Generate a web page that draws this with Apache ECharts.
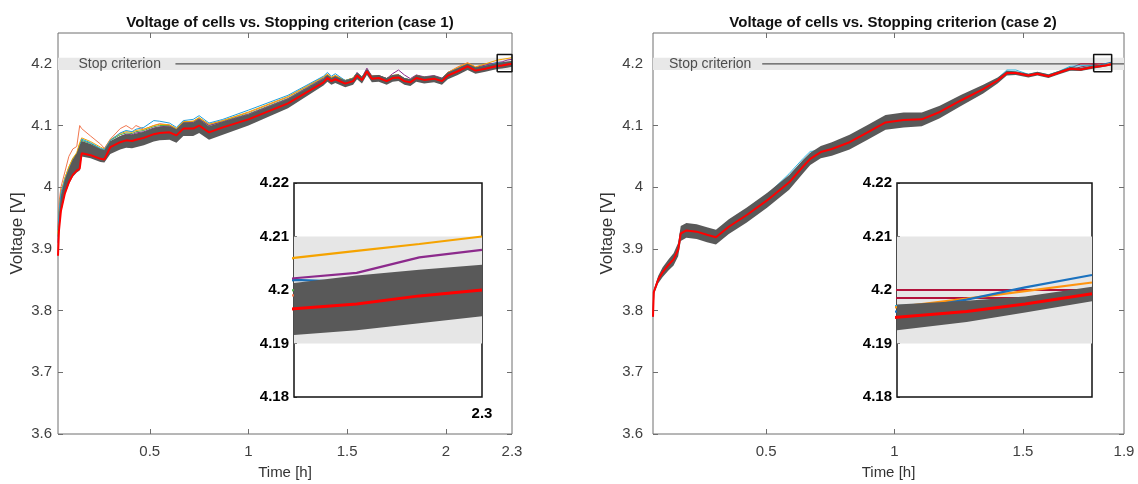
<!DOCTYPE html>
<html><head><meta charset="utf-8">
<script src="https://cdn.jsdelivr.net/npm/echarts@6/dist/echarts.min.js"></script>
<style>html,body{margin:0;padding:0;background:#fff}#c{width:1138px;height:484px}</style>
</head><body><div id="c"></div>
<script>
// ---------------- DATA ----------------
const titles = ['Voltage of cells vs. Stopping criterion (case 1)', 'Voltage of cells vs. Stopping criterion (case 2)'];
const xName = 'Time [h]';
const yName = 'Voltage [V]';
const stopText = 'Stop criterion';
const stopLevel = 4.2;
const stopBand = [4.19, 4.21];

const xRange1 = [0.035, 2.335];
const xRange2 = [0.06, 1.893];
const yRange = [3.6, 4.25];
const yTicks = [3.6, 3.7, 3.8, 3.9, 4, 4.1, 4.2];
const xTickVals1 = [0.5, 1, 1.5, 2, 2.335];
const xTickText1 = ['0.5', '1', '1.5', '2', '2.3'];
const xTickVals2 = [0.5, 1, 1.5, 1.893];
const xTickText2 = ['0.5', '1', '1.5', '1.9'];

const insetX1 = [2.26, 2.335];
const insetX2 = [1.775, 1.845];
const insetY = [4.18, 4.22];
const insetYTicks = [4.18, 4.19, 4.2, 4.21, 4.22];
const insetXTickVals1 = [2.335];
const insetXTickText1 = ['2.3'];
const zoomBoxY = [4.187, 4.215];

const stopTextX1 = 0.136, stopLineStart1 = 0.63;
const stopTextX2 = 0.12, stopLineStart2 = 0.485;

// case 1
const t1 = [0.035,0.04,0.05,0.07,0.09,0.11,0.13,0.145,0.155,0.2,0.25,0.27,0.3,0.35,0.38,0.41,0.43,0.47,0.52,0.55,0.6,0.635,0.67,0.72,0.75,0.8,0.87,1.0,1.2,1.38,1.4,1.42,1.44,1.49,1.53,1.55,1.575,1.6,1.625,1.66,1.7,1.73,1.76,1.79,1.82,1.85,1.89,1.94,1.98,2.01,2.06,2.11,2.15,2.2,2.26,2.285,2.31,2.335];
const red1 = [3.889,3.93,3.962,3.99,4.008,4.02,4.027,4.03,4.055,4.052,4.046,4.045,4.065,4.073,4.076,4.075,4.077,4.08,4.086,4.088,4.089,4.084,4.095,4.095,4.1,4.089,4.097,4.11,4.136,4.17,4.177,4.172,4.175,4.168,4.172,4.181,4.174,4.188,4.176,4.177,4.172,4.177,4.178,4.172,4.17,4.177,4.174,4.176,4.172,4.181,4.188,4.196,4.189,4.192,4.1965,4.1974,4.1989,4.2];
const lo1 = [3.887,3.925,3.958,3.988,4.005,4.017,4.024,4.027,4.05,4.047,4.041,4.04,4.054,4.061,4.064,4.063,4.065,4.068,4.074,4.076,4.077,4.072,4.083,4.083,4.088,4.077,4.085,4.1,4.128,4.165,4.171,4.166,4.169,4.162,4.166,4.175,4.168,4.182,4.17,4.171,4.166,4.171,4.172,4.166,4.164,4.171,4.168,4.17,4.166,4.175,4.182,4.19,4.184,4.187,4.1916,4.1925,4.1938,4.1951];
const hi1 = [3.9,3.95,3.985,4.012,4.03,4.045,4.055,4.068,4.075,4.07,4.062,4.06,4.075,4.083,4.086,4.085,4.087,4.09,4.096,4.098,4.099,4.094,4.105,4.105,4.11,4.099,4.106,4.118,4.143,4.176,4.182,4.177,4.18,4.173,4.177,4.186,4.179,4.192,4.181,4.182,4.177,4.182,4.183,4.177,4.175,4.182,4.179,4.181,4.177,4.186,4.193,4.2,4.194,4.197,4.2013,4.2027,4.2038,4.2047];
const blue1 = [3.93,3.96,3.99,4.012,4.028,4.042,4.05,4.06,4.078,4.072,4.063,4.061,4.076,4.088,4.092,4.09,4.094,4.097,4.108,4.107,4.104,4.097,4.108,4.11,4.116,4.104,4.11,4.125,4.149,4.18,4.186,4.18,4.184,4.173,4.176,4.185,4.178,4.19,4.179,4.18,4.176,4.18,4.181,4.176,4.174,4.18,4.178,4.18,4.176,4.185,4.192,4.199,4.193,4.196,4.2019,4.2015,4.2024,4.203];
const coral1 = [3.935,3.975,4.0,4.025,4.05,4.062,4.066,4.1,4.095,4.083,4.07,4.063,4.078,4.095,4.1,4.094,4.1,4.094,4.1,4.103,4.101,4.095,4.106,4.107,4.112,4.102,4.108,4.121,4.146,4.178,4.183,4.178,4.181,4.173,4.177,4.185,4.178,4.19,4.18,4.181,4.176,4.181,4.182,4.176,4.174,4.181,4.178,4.18,4.176,4.186,4.195,4.202,4.195,4.198,4.199,4.2,4.201,4.202];
const green1 = [3.92,3.955,3.99,4.015,4.032,4.046,4.054,4.07,4.076,4.071,4.062,4.06,4.076,4.085,4.088,4.087,4.09,4.092,4.098,4.1,4.1,4.094,4.105,4.106,4.111,4.1,4.107,4.119,4.144,4.177,4.182,4.177,4.18,4.173,4.177,4.185,4.178,4.19,4.179,4.18,4.176,4.181,4.182,4.176,4.174,4.181,4.178,4.18,4.176,4.185,4.192,4.199,4.193,4.196,4.2,4.201,4.202,4.2025];
const purple1 = [3.91,3.95,3.985,4.01,4.027,4.042,4.05,4.065,4.072,4.068,4.06,4.058,4.073,4.082,4.086,4.085,4.088,4.09,4.096,4.098,4.099,4.093,4.104,4.105,4.11,4.1,4.106,4.118,4.143,4.176,4.181,4.176,4.179,4.172,4.176,4.186,4.178,4.193,4.18,4.181,4.176,4.184,4.19,4.182,4.176,4.182,4.179,4.181,4.177,4.186,4.193,4.2,4.194,4.198,4.2022,4.2032,4.2061,4.2075];
const orange1 = [3.925,3.96,3.992,4.015,4.033,4.047,4.056,4.072,4.08,4.074,4.065,4.062,4.077,4.087,4.09,4.089,4.092,4.094,4.1,4.102,4.101,4.095,4.106,4.107,4.113,4.102,4.108,4.122,4.147,4.179,4.183,4.178,4.181,4.173,4.177,4.185,4.178,4.19,4.18,4.18,4.176,4.181,4.182,4.176,4.174,4.181,4.178,4.18,4.176,4.186,4.194,4.201,4.195,4.2,4.206,4.2073,4.2086,4.21];

// case 2
const t2 = [0.06,0.063,0.08,0.097,0.12,0.14,0.158,0.168,0.19,0.23,0.27,0.305,0.355,0.425,0.505,0.59,0.645,0.672,0.713,0.756,0.825,0.895,0.965,1.035,1.106,1.176,1.26,1.345,1.401,1.437,1.472,1.521,1.556,1.599,1.641,1.683,1.725,1.775,1.8,1.821,1.845];
const red2 = [3.79,3.83,3.85,3.862,3.874,3.883,3.899,3.925,3.93,3.928,3.923,3.919,3.936,3.955,3.979,4.008,4.034,4.046,4.057,4.062,4.073,4.089,4.105,4.109,4.11,4.122,4.141,4.159,4.173,4.185,4.185,4.181,4.184,4.18,4.186,4.192,4.191,4.1949,4.196,4.1974,4.1993];
const lo2 = [3.787,3.826,3.844,3.854,3.865,3.873,3.888,3.913,3.918,3.916,3.911,3.907,3.924,3.943,3.967,3.996,4.023,4.036,4.047,4.051,4.061,4.077,4.093,4.097,4.099,4.112,4.132,4.152,4.168,4.181,4.182,4.178,4.181,4.177,4.183,4.189,4.1885,4.1925,4.194,4.1958,4.1979];
const hi2 = [3.793,3.834,3.856,3.87,3.883,3.893,3.91,3.937,3.942,3.94,3.935,3.931,3.948,3.967,3.991,4.02,4.045,4.056,4.067,4.073,4.085,4.101,4.117,4.121,4.121,4.132,4.15,4.166,4.178,4.189,4.188,4.184,4.187,4.183,4.189,4.195,4.1935,4.1973,4.198,4.1988,4.2006];
const cyan2 = [3.79,3.83,3.852,3.864,3.877,3.886,3.902,3.93,3.935,3.932,3.927,3.923,3.941,3.961,3.988,4.022,4.047,4.058,4.06,4.066,4.077,4.093,4.109,4.113,4.114,4.126,4.145,4.162,4.176,4.19,4.19,4.183,4.186,4.182,4.188,4.196,4.197,4.197,4.1975,4.198,4.1995];
const blue2 = [3.79,3.83,3.851,3.863,3.876,3.885,3.9,3.927,3.932,3.93,3.925,3.921,3.938,3.957,3.982,4.012,4.038,4.05,4.06,4.065,4.076,4.092,4.108,4.112,4.113,4.125,4.143,4.161,4.175,4.187,4.186,4.182,4.185,4.181,4.187,4.193,4.192,4.196,4.1982,4.2005,4.2028];
const orange2 = [3.79,3.83,3.85,3.862,3.875,3.884,3.9,3.926,3.931,3.929,3.924,3.92,3.937,3.956,3.981,4.01,4.036,4.048,4.058,4.064,4.075,4.091,4.107,4.111,4.112,4.124,4.142,4.16,4.174,4.186,4.186,4.182,4.185,4.181,4.187,4.193,4.192,4.1968,4.1984,4.1998,4.2014];
const tCrimson2 = [1.683, 1.725, 1.775, 1.8, 1.821, 1.845];
const crimsonA2 = [4.193, 4.2, 4.2, 4.2, 4.2, 4.2];
const crimsonB2 = [4.19, 4.195, 4.1985, 4.1985, 4.1985, 4.1985];

// ---------------- STYLE ----------------
const FONT = '"Liberation Sans", Arial, sans-serif';
const COL = {
  red: '#ff0000', band: '#595959', crit: '#e6e6e6', stop: '#555555', frame: '#6e6e6e',
  blue: '#1e9fdc', coral: '#f2774f', green: '#4caa48', purple: '#8c2a8c', orange: '#f5a300',
  cyan: '#2bb9e2', blue2: '#1b72bf', orange2: '#ff9410', crimson: '#b3123b'
};

function pts(t, v) { return t.map((x, i) => [x, v[i]]); }
function lineS(ax, t, v, color, w, z) {
  return { type: 'line', xAxisIndex: ax[0], yAxisIndex: ax[1], data: pts(t, v), symbol: 'none',
    lineStyle: { color: color, width: w }, z: z, silent: true, clip: true, animation: false };
}
function bandS(ax, t, lo, hi, z) {
  return {
    type: 'custom', xAxisIndex: ax[0], yAxisIndex: ax[1], z: z, silent: true, clip: true, animation: false,
    data: t.map((x, i) => [x, lo[i], hi[i]]),
    encode: { x: 0, y: [1, 2] },
    renderItem: function (params, api) {
      if (params.dataIndex !== 0) return;
      const up = t.map((x, i) => api.coord([x, hi[i]]));
      const dn = t.map((x, i) => api.coord([x, lo[i]])).reverse();
      const cs = params.coordSys;
      const points = echarts.graphic.clipPointsByRect(up.concat(dn), { x: cs.x, y: cs.y, width: cs.width, height: cs.height });
      return { type: 'polygon', shape: { points: points }, style: { fill: COL.band } };
    }
  };
}
function critS(ax, x0, x1, lineColor, lineW, areaColor) {
  return { type: 'line', xAxisIndex: ax[0], yAxisIndex: ax[1], data: [[x0, stopLevel], [x1, stopLevel]], symbol: 'none',
    lineStyle: { color: lineColor, width: lineW, opacity: lineW ? 1 : 0 }, z: 1, silent: true, animation: false,
    markArea: { silent: true, itemStyle: { color: areaColor }, data: [[{ yAxis: stopBand[0] }, { yAxis: stopBand[1] }]] } };
}
function boxS(ax, bx, by) {
  return { type: 'line', xAxisIndex: ax[0], yAxisIndex: ax[1], symbol: 'none', silent: true, animation: false, clip: false, z: 6,
    data: [[bx[0], by[0]], [bx[1], by[0]], [bx[1], by[1]], [bx[0], by[1]], [bx[0], by[0]]],
    lineStyle: { color: '#111', width: 1.5 } };
}
function textS(ax, x) {
  return { type: 'scatter', xAxisIndex: ax[0], yAxisIndex: ax[1], data: [[x, stopLevel]], symbol: 'circle', symbolSize: 1, silent: true, animation: false,
    itemStyle: { color: 'rgba(0,0,0,0)' }, z: 7,
    label: { show: true, position: 'right', distance: 0, formatter: stopText, color: '#262626', fontSize: 14, fontFamily: FONT } };
}
function pick(vals, texts) {
  return function (v) { const i = vals.findIndex(u => Math.abs(u - v) < 1e-6); return i >= 0 ? texts[i] : ''; };
}

function mainAxes(gi, xr, xVals, xTexts, yLabelMargin, yNameGap) {
  const tickCol = COL.frame;
  const xs = [
    { type: 'value', gridIndex: gi, min: xr[0], max: xr[1], position: 'bottom', name: xName, nameLocation: 'middle', nameGap: 31,
      nameTextStyle: { fontFamily: FONT, fontSize: 15, color: '#333' },
      axisLine: { show: false }, splitLine: { show: false },
      axisTick: { show: true, inside: true, length: 5, customValues: xVals.slice(0, -1), lineStyle: { color: tickCol } },
      axisLabel: { customValues: xVals, formatter: pick(xVals, xTexts), margin: 10, fontFamily: FONT, fontSize: 15, color: '#404040' } },
    { type: 'value', gridIndex: gi, min: xr[0], max: xr[1], position: 'top',
      axisLine: { show: false }, splitLine: { show: false }, axisLabel: { show: false },
      axisTick: { show: true, inside: true, length: 5, customValues: xVals.slice(0, -1), lineStyle: { color: tickCol } } }
  ];
  const ys = [
    { type: 'value', gridIndex: gi, min: yRange[0], max: yRange[1], position: 'left', name: yName, nameLocation: 'middle', nameGap: yNameGap,
      nameTextStyle: { fontFamily: FONT, fontSize: 17, color: '#333' },
      axisLine: { show: false }, splitLine: { show: false },
      axisTick: { show: true, inside: true, length: 5, customValues: yTicks, lineStyle: { color: tickCol } },
      axisLabel: { customValues: yTicks, formatter: v => String(Math.round(v * 10) / 10), margin: yLabelMargin, fontFamily: FONT, fontSize: 15, color: '#404040' } },
    { type: 'value', gridIndex: gi, min: yRange[0], max: yRange[1], position: 'right',
      axisLine: { show: false }, splitLine: { show: false }, axisLabel: { show: false },
      axisTick: { show: true, inside: true, length: 5, customValues: yTicks, lineStyle: { color: tickCol } } }
  ];
  return { xs, ys };
}
function insetAxes(gi, xr, xVals, xTexts) {
  const x = { type: 'value', gridIndex: gi, min: xr[0], max: xr[1], position: 'bottom',
    axisLine: { show: false }, splitLine: { show: false }, axisTick: { show: false },
    axisLabel: xVals.length ? { customValues: xVals, formatter: pick(xVals, xTexts), margin: 9, fontFamily: FONT, fontSize: 15, fontWeight: 'bold', color: '#000' } : { show: false } };
  const y = { type: 'value', gridIndex: gi, min: insetY[0], max: insetY[1], position: 'left',
    axisLine: { show: false }, splitLine: { show: false },
    axisTick: { show: true, inside: true, length: 3, customValues: insetYTicks, lineStyle: { color: '#222' } },
    axisLabel: { customValues: insetYTicks, formatter: v => String(Math.round(v * 100) / 100), margin: 5, fontFamily: FONT, fontSize: 15, fontWeight: 'bold', color: '#000' } };
  return { x, y };
}

const a0 = mainAxes(0, xRange1, xTickVals1, xTickText1, 6, 32);
const a1 = mainAxes(1, xRange2, xTickVals2, xTickText2, 10, 37);
const a2 = insetAxes(2, insetX1, insetXTickVals1, insetXTickText1);
const a3 = insetAxes(3, insetX2, [], []);

const xAxis = [a0.xs[0], a0.xs[1], a1.xs[0], a1.xs[1], a2.x, a3.x];
const yAxis = [a0.ys[0], a0.ys[1], a1.ys[0], a1.ys[1], a2.y, a3.y];

const M1 = [0, 0], M2 = [2, 2], I1 = [4, 4], I2 = [5, 5];

const series = [
  // left main
  critS(M1, stopLineStart1, xRange1[1], COL.stop, 1.2, '#e8e8e8'),
  lineS(M1, t1, coral1, COL.coral, 1, 2),
  lineS(M1, t1, green1, COL.green, 1, 2),
  lineS(M1, t1, purple1, COL.purple, 1, 2),
  lineS(M1, t1, orange1, COL.orange, 1, 2),
  lineS(M1, t1, blue1, COL.blue, 1, 2),
  bandS(M1, t1, lo1, hi1, 3),
  lineS(M1, t1, red1, COL.red, 2, 4),
  boxS(M1, insetX1, zoomBoxY),
  textS(M1, stopTextX1),
  // right main
  critS(M2, stopLineStart2, xRange2[1], COL.stop, 1.2, '#e8e8e8'),
  lineS(M2, tCrimson2, crimsonA2, COL.crimson, 1, 2),
  lineS(M2, tCrimson2, crimsonB2, COL.crimson, 1, 2),
  lineS(M2, t2, orange2, COL.orange2, 1, 2),
  lineS(M2, t2, cyan2, COL.cyan, 1, 2),
  lineS(M2, t2, blue2, COL.blue2, 1, 2),
  bandS(M2, t2, lo2, hi2, 3),
  lineS(M2, t2, red2, COL.red, 2, 4),
  boxS(M2, insetX2, zoomBoxY),
  textS(M2, stopTextX2),
  // left inset
  critS(I1, insetX1[0], insetX1[1], '#000', 0, COL.crit),
  lineS(I1, t1, coral1, COL.coral, 2.2, 2),
  lineS(I1, t1, green1, COL.green, 2.2, 2),
  lineS(I1, t1, blue1, '#1a6fb8', 2.2, 2),
  lineS(I1, t1, purple1, COL.purple, 2.2, 2),
  lineS(I1, t1, orange1, COL.orange, 2.2, 2),
  bandS(I1, t1, lo1, hi1, 3),
  lineS(I1, t1, red1, COL.red, 3, 4),
  // right inset
  critS(I2, insetX2[0], insetX2[1], '#000', 0, COL.crit),
  lineS(I2, tCrimson2, crimsonA2, COL.crimson, 2, 2),
  lineS(I2, tCrimson2, crimsonB2, COL.crimson, 2, 2),
  lineS(I2, t2, cyan2, COL.cyan, 2.2, 2),
  lineS(I2, t2, orange2, COL.orange2, 2.2, 2),
  lineS(I2, t2, blue2, COL.blue2, 2.2, 2),
  bandS(I2, t2, lo2, hi2, 3),
  lineS(I2, t2, red2, COL.red, 3, 4)
];

const chart = echarts.init(document.getElementById('c'), null, { renderer: 'canvas' });
chart.setOption({
  backgroundColor: '#ffffff',
  animation: false,
  title: [
    { text: titles[0], left: 285, top: 10, textAlign: 'center', textStyle: { fontFamily: FONT, fontSize: 15, fontWeight: 'bold', color: '#111' } },
    { text: titles[1], left: 888, top: 10, textAlign: 'center', textStyle: { fontFamily: FONT, fontSize: 15, fontWeight: 'bold', color: '#111' } }
  ],
  grid: [
    { left: 58, top: 33, width: 454, height: 401, show: true, borderColor: COL.frame, borderWidth: 1, backgroundColor: 'transparent', outerBoundsMode: 'none' },
    { left: 653, top: 33, width: 471, height: 401, show: true, borderColor: COL.frame, borderWidth: 1, backgroundColor: 'transparent', outerBoundsMode: 'none' },
    { left: 294, top: 183, width: 188, height: 214, show: true, borderColor: '#111', borderWidth: 1.5, backgroundColor: '#fff', outerBoundsMode: 'none' },
    { left: 897, top: 183, width: 195, height: 214, show: true, borderColor: '#111', borderWidth: 1.5, backgroundColor: '#fff', outerBoundsMode: 'none' }
  ],
  xAxis: xAxis,
  yAxis: yAxis,
  series: series
});
</script>
</body></html>
